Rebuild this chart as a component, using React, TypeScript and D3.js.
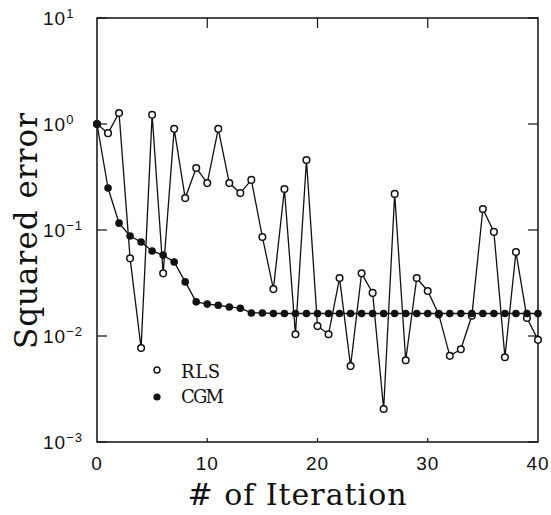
import React from "react";
import * as d3 from "d3";

// values (squared error per iteration)
const iterations = d3.range(0, 41);
const rlsValues = [
  1.0, 0.82, 1.27, 0.054, 0.0077, 1.22, 0.039, 0.9, 0.2, 0.385, 0.277, 0.9,
  0.277, 0.223, 0.297, 0.086, 0.0277, 0.244, 0.0104, 0.457, 0.0124, 0.0104,
  0.0352, 0.0052, 0.039, 0.0255, 0.00205, 0.219, 0.0059, 0.0352, 0.0266,
  0.016, 0.0065, 0.0075, 0.0155, 0.158, 0.096, 0.0063, 0.062, 0.0148, 0.0092,
];
const cgmValues = [
  1.0, 0.249, 0.116, 0.0877, 0.077, 0.0634, 0.058, 0.0499, 0.0324, 0.021,
  0.02, 0.0195, 0.0188, 0.0183, 0.0165, 0.0165, 0.0163, 0.0163, 0.0163,
  0.0163, 0.0163, 0.0163, 0.0163, 0.0163, 0.0163, 0.0163, 0.0163, 0.0163,
  0.0163, 0.0163, 0.0163, 0.0163, 0.0163, 0.0163, 0.0163, 0.0163, 0.0163,
  0.0163, 0.0163, 0.0163, 0.0163,
];
const xTicks = [0, 10, 20, 30, 40];
const yExponents = [1, 0, -1, -2, -3];
const legendLabels = ["RLS", "CGM"];

const W = 551;
const H = 515;
const left = 97;
const right = 538;
const top = 18;
const bottom = 442;
const ink = "#111";

export default function App() {
  const x = d3.scaleLinear().domain([0, 40]).range([left, right]);
  const y = d3.scaleLog().domain([1e-3, 10]).range([bottom, top]);

  const line = d3
    .line<number>()
    .x((_, i) => x(iterations[i]))
    .y((d) => y(d));

  const tickSans = "'Liberation Sans', Arial, sans-serif";
  const serif = "'DejaVu Serif', serif";

  return (
    <svg
      width={W}
      height={H}
      style={{ position: "absolute", left: 0, top: 0, background: "#fff" }}
    >
      {/* frame */}
      <rect
        x={left}
        y={top}
        width={right - left}
        height={bottom - top}
        fill="none"
        stroke={ink}
        strokeWidth={1.5}
      />

      {/* ticks, pointing inward */}
      {yExponents.map((e) => (
        <g key={"yt" + e}>
          <line x1={left} x2={left + 10} y1={y(10 ** e)} y2={y(10 ** e)} stroke={ink} strokeWidth={1.2} />
          <line x1={right} x2={right - 10} y1={y(10 ** e)} y2={y(10 ** e)} stroke={ink} strokeWidth={1.2} />
          <text
            x={43}
            y={y(10 ** e) + 6.5}
            fontFamily={tickSans}
            fontSize={19}
            letterSpacing={1}
            fill={ink}
          >
            10
            <tspan fontSize={13} dy={-7}>
              {e < 0 ? "\u2212" + -e : String(e)}
            </tspan>
          </text>
        </g>
      ))}
      {xTicks.map((t) => (
        <g key={"xt" + t}>
          {t > 0 && t < 40 && (
            <>
              <line x1={x(t)} x2={x(t)} y1={top} y2={top + 10} stroke={ink} strokeWidth={1.2} />
              <line x1={x(t)} x2={x(t)} y1={bottom} y2={bottom - 4} stroke={ink} strokeWidth={1.2} />
            </>
          )}
          <text
            x={x(t)}
            y={470}
            textAnchor="middle"
            fontFamily={tickSans}
            fontSize={19}
            letterSpacing={1}
            fill={ink}
          >
            {t}
          </text>
        </g>
      ))}

      {/* series lines */}
      <path d={line(rlsValues) ?? ""} fill="none" stroke={ink} strokeWidth={1.3} />
      <path d={line(cgmValues) ?? ""} fill="none" stroke={ink} strokeWidth={1.3} />

      {/* markers */}
      {rlsValues.map((v, i) => (
        <circle key={"r" + i} cx={x(iterations[i])} cy={y(v)} r={3.3} fill="#fff" stroke={ink} strokeWidth={1.5} />
      ))}
      {cgmValues.map((v, i) => (
        <circle key={"c" + i} cx={x(iterations[i])} cy={y(v)} r={3.8} fill={ink} />
      ))}

      {/* legend */}
      <circle cx={157} cy={370} r={3} fill="#fff" stroke={ink} strokeWidth={1.4} />
      <circle cx={157} cy={397} r={3.6} fill={ink} />
      {legendLabels.map((lab, i) => (
        <text
          key={lab}
          x={181}
          y={378 + i * 25}
          fontFamily={serif}
          fontSize={18}
          textLength={i === 0 ? 39 : 43}
          fill={ink}
        >
          {lab}
        </text>
      ))}

      {/* axis titles */}
      <text
        x={297}
        y={505}
        textAnchor="middle"
        fontFamily={serif}
        fontSize={30}
        textLength={219}
        fill={ink}
      >
        # of Iteration
      </text>
      <text
        transform="translate(37,231) rotate(-90)"
        textAnchor="middle"
        fontFamily={serif}
        fontSize={31}
        textLength={236}
        fill={ink}
      >
        Squared error
      </text>
    </svg>
  );
}
